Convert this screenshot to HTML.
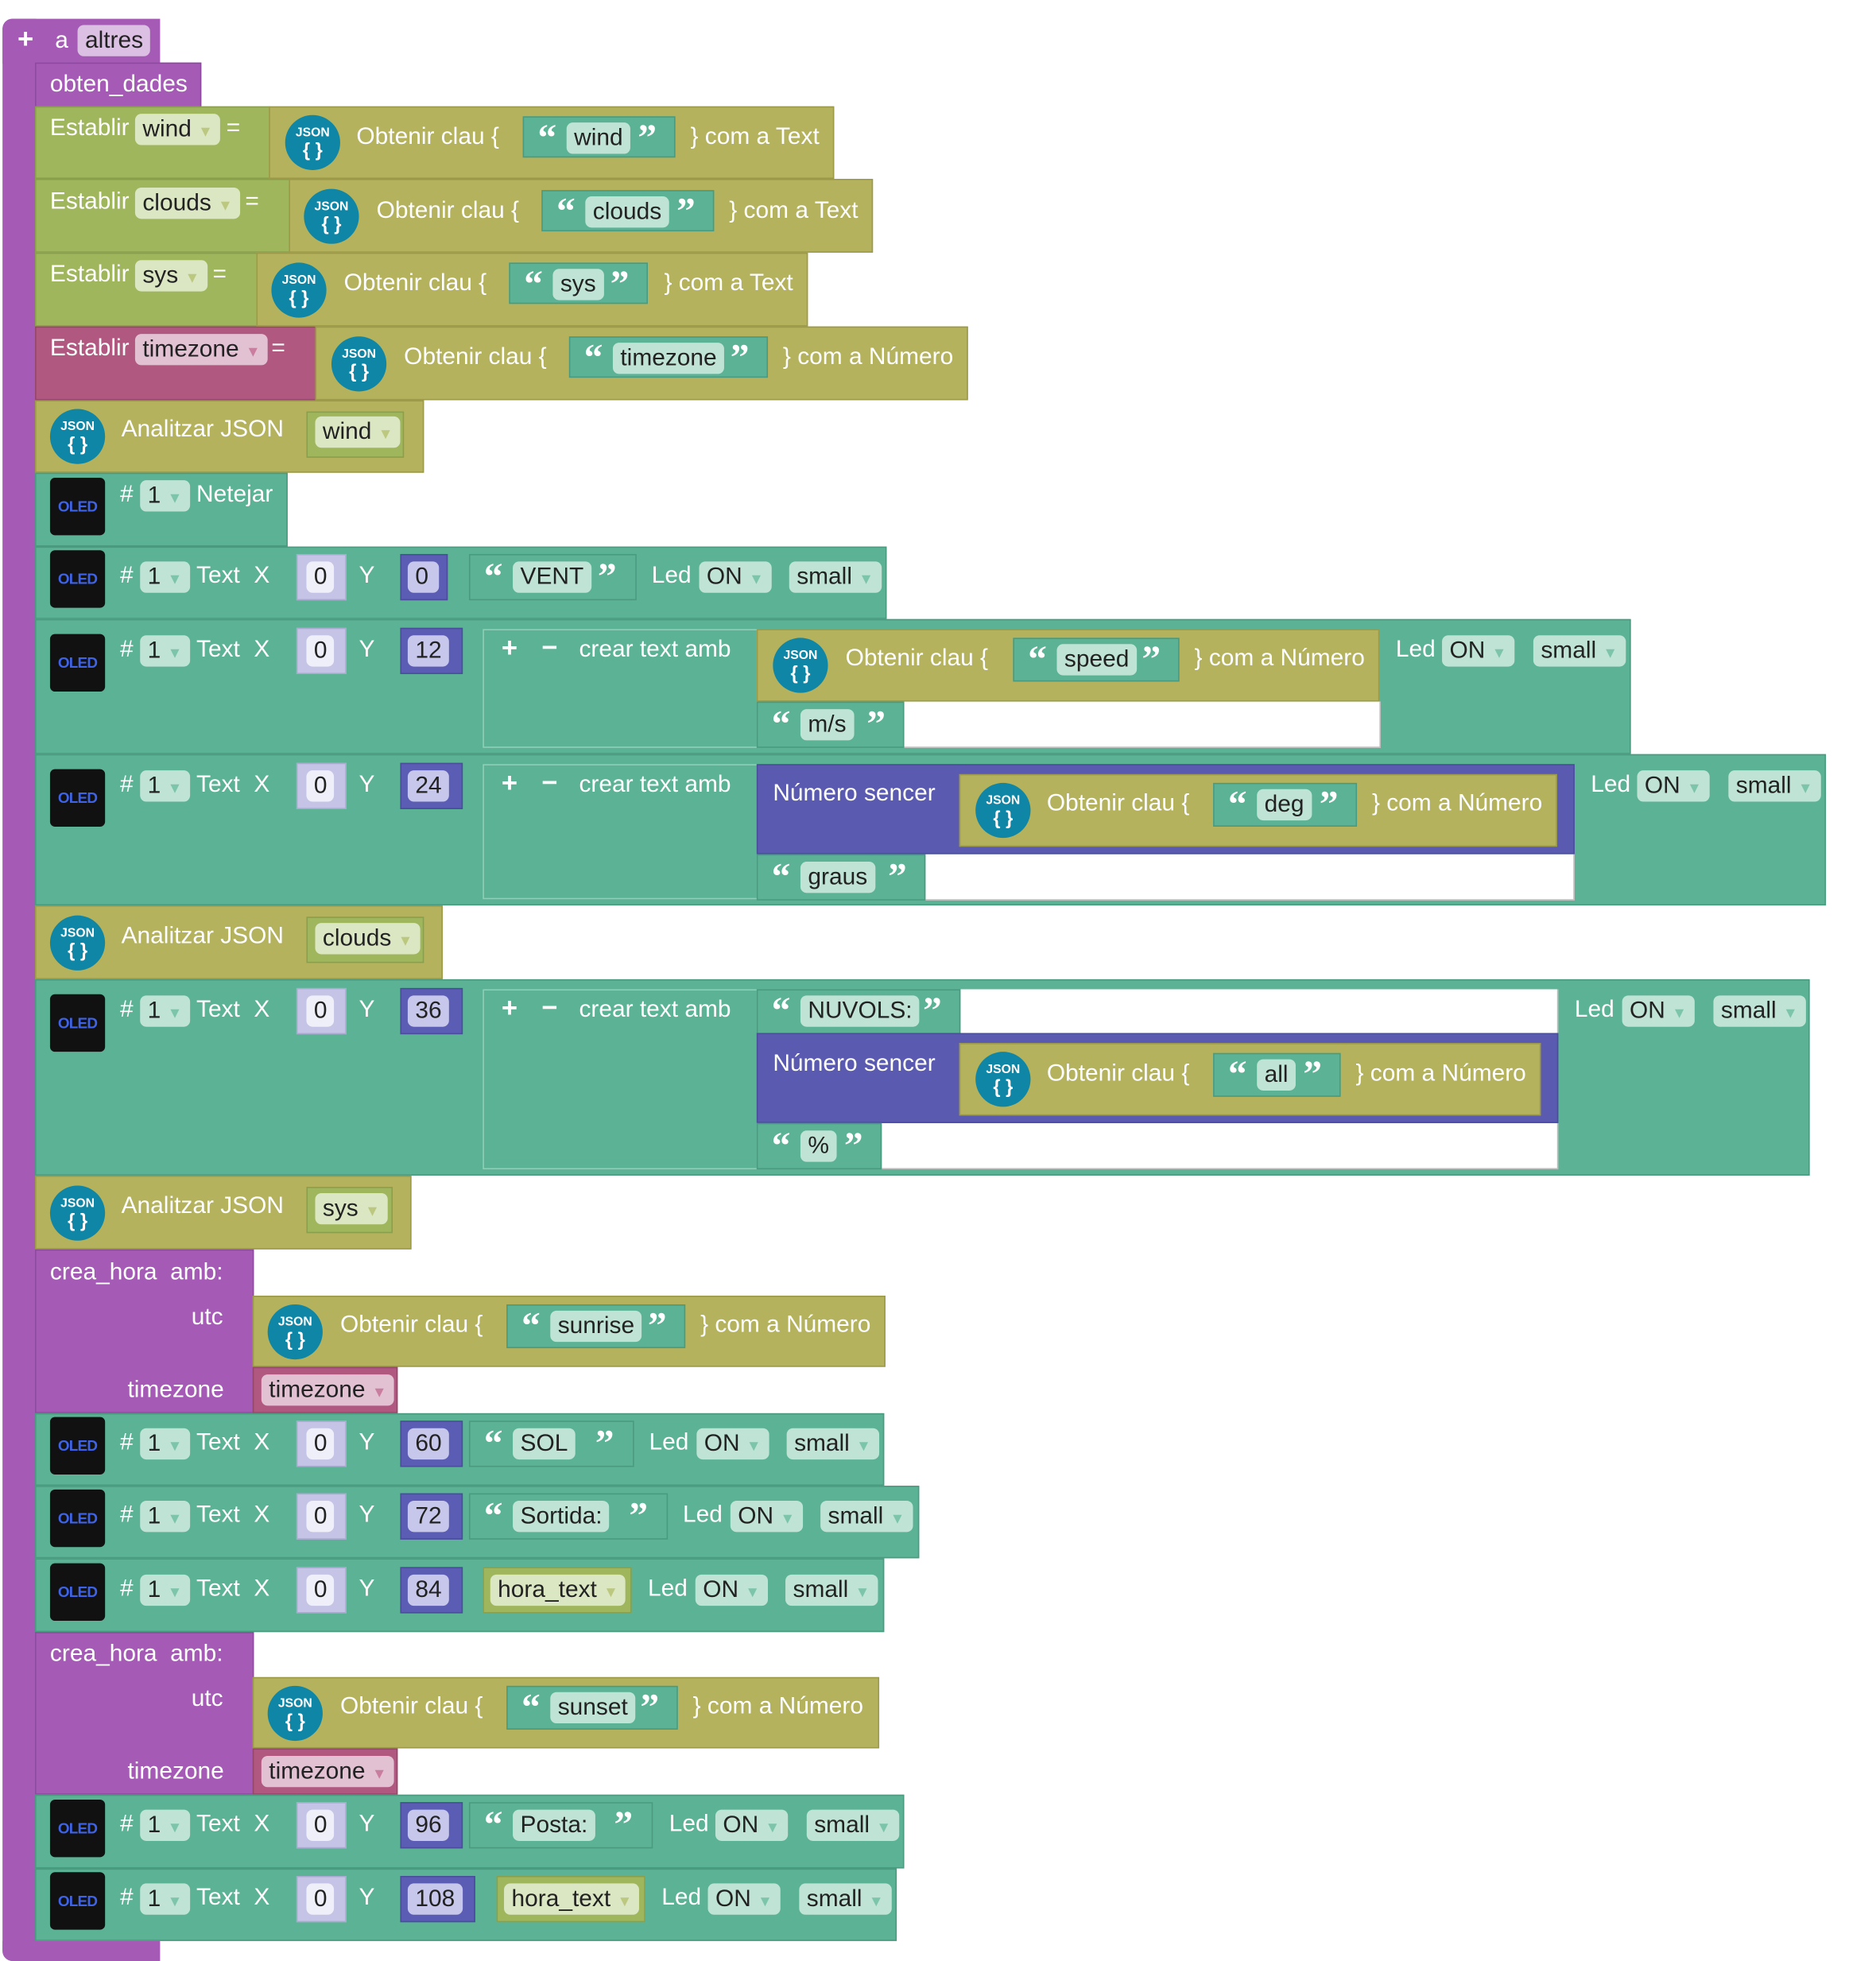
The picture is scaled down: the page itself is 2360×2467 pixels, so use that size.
<!DOCTYPE html>
<html><head><meta charset="utf-8">
<style>
html,body{margin:0;padding:0;background:#fff;width:2360px;height:2467px;overflow:hidden}
#w{position:absolute;left:0;top:0;width:1500px;height:1568px;transform:scale(1.57333);transform-origin:0 0;font-family:"Liberation Sans",sans-serif}
#w div{position:absolute;box-sizing:border-box}
.t{color:#fff;font-size:19px;line-height:22px;white-space:nowrap}
.f{height:25px;line-height:25px;font-size:19px;color:#222;border-radius:5px;padding:0 6px;white-space:nowrap}
.g{background:#a0b65c;border:1px solid #8a9f4c}
.o{background:#b4b25c;border:1px solid #9c9a48}
.p{background:#a55bb6}
.k{background:#b15880;border:1px solid #96466a}
.c{background:#5bb295;border:1px solid #4a9a80}
.lv{background:#c5c4e6;border:1px solid #aaa9d0}
.db{background:#5b5db5;border:1px solid #4a4c9c}
.fg{background:#dbe6c3}.fc{background:#bfe3d5}.fk{background:#e2c1d3}.fl{background:#efeff9}.fd{background:#c6c7ea}
.ar{font-size:12px;color:#fff}
.js{width:44px;height:44px;border-radius:50%;background:#0f86a6;color:#fff;text-align:center;font-size:10px;line-height:12px;padding-top:9px;font-weight:bold}
.js b{display:block;font-size:15px;line-height:15px}
.ol{width:44px;height:46px;background:#111;border-radius:4px;color:#3e63e6;font-size:12px;font-weight:bold;text-align:center;line-height:46px;letter-spacing:-0.5px}
.q{color:#fff;font-size:30px;font-weight:bold;line-height:30px;font-family:"Liberation Serif",serif}
</style></head><body><div id="w">

<div class="p" style="left:2px;top:15px;width:126px;height:36px;border-radius:8px 0 0 0"></div>
<div class="p" style="left:2px;top:15px;width:27px;height:1553px;border-radius:8px 0 0 8px"></div>
<div class="p" style="left:2px;top:1552px;width:126px;height:16px;border-radius:0 0 0 8px"></div>
<div class="t" style="left:14px;top:20px;font-weight:bold;font-size:22px">+</div>
<div class="t" style="left:44px;top:22px">a</div>
<div class="f" style="left:62px;top:20px;background:#dcc0e3">altres</div>

<div class="p" style="left:28px;top:50px;width:133px;height:36px;border:1px solid #8d4a9c"></div>
<div class="t" style="left:40px;top:57px">obten_dades</div>

<div class="g" style="left:28px;top:85px;width:188px;height:58px"></div>
<div class="t" style="left:40px;top:92px">Establir</div><div class="f fg" style="left:108px;top:91px">wind <span class="ar" style="color:#bcc77f">▼</span></div><div class="t" style="left:181px;top:92px">=</div>
<div class="g" style="left:28px;top:143px;width:204px;height:59px"></div>
<div class="t" style="left:40px;top:151px">Establir</div><div class="f fg" style="left:108px;top:150px">clouds <span class="ar" style="color:#bcc77f">▼</span></div><div class="t" style="left:196px;top:151px">=</div>
<div class="g" style="left:28px;top:202px;width:178px;height:59px"></div>
<div class="t" style="left:40px;top:209px">Establir</div><div class="f fg" style="left:108px;top:208px">sys <span class="ar" style="color:#bcc77f">▼</span></div><div class="t" style="left:170px;top:209px">=</div>
<div class="k" style="left:28px;top:261px;width:225px;height:59px"></div>
<div class="t" style="left:40px;top:268px">Establir</div><div class="f fk" style="left:108px;top:267px">timezone <span class="ar" style="color:#c97ea0">▼</span></div><div class="t" style="left:217px;top:268px">=</div>

<div class="o" style="left:215px;top:85px;width:452px;height:58px"></div>
<div class="js" style="left:228px;top:92px">JSON<b>{ }</b></div>
<div class="t" style="left:285px;top:99px">Obtenir clau {</div>
<div class="c" style="left:418px;top:93px;width:122px;height:33px"></div><div class="q" style="left:430px;top:96px">“</div><div class="f fc" style="left:453px;top:98px">wind</div><div class="q" style="left:510px;top:96px">”</div>
<div class="t" style="left:552px;top:99px">} com a Text</div>

<div class="o" style="left:231px;top:143px;width:467px;height:59px"></div>
<div class="js" style="left:243px;top:151px">JSON<b>{ }</b></div>
<div class="t" style="left:301px;top:158px">Obtenir clau {</div>
<div class="c" style="left:433px;top:152px;width:138px;height:33px"></div><div class="q" style="left:445px;top:155px">“</div><div class="f fc" style="left:468px;top:157px">clouds</div><div class="q" style="left:541px;top:155px">”</div>
<div class="t" style="left:583px;top:158px">} com a Text</div>

<div class="o" style="left:205px;top:202px;width:441px;height:59px"></div>
<div class="js" style="left:217px;top:210px">JSON<b>{ }</b></div>
<div class="t" style="left:275px;top:216px">Obtenir clau {</div>
<div class="c" style="left:407px;top:210px;width:111px;height:33px"></div><div class="q" style="left:419px;top:213px">“</div><div class="f fc" style="left:442px;top:215px">sys</div><div class="q" style="left:488px;top:213px">”</div>
<div class="t" style="left:531px;top:216px">} com a Text</div>

<div class="o" style="left:252px;top:261px;width:522px;height:59px"></div>
<div class="js" style="left:265px;top:269px">JSON<b>{ }</b></div>
<div class="t" style="left:323px;top:275px">Obtenir clau {</div>
<div class="c" style="left:455px;top:269px;width:159px;height:33px"></div><div class="q" style="left:467px;top:272px">“</div><div class="f fc" style="left:490px;top:274px">timezone</div><div class="q" style="left:584px;top:272px">”</div>
<div class="t" style="left:626px;top:275px">} com a Número</div>

<div class="o" style="left:28px;top:320px;width:311px;height:58px"></div>
<div class="js" style="left:40px;top:327px">JSON<b>{ }</b></div>
<div class="t" style="left:97px;top:333px">Analitzar JSON</div>
<div class="g" style="left:245px;top:329px;width:78px;height:37px"></div><div class="f fg" style="left:252px;top:333px">wind <span class="ar" style="color:#bcc77f">▼</span></div>

<div class="c" style="left:28px;top:378px;width:202px;height:59px"></div>
<div class="ol" style="left:40px;top:382px">OLED</div>
<div class="t" style="left:96px;top:385px">#</div><div class="f fc" style="left:112px;top:384px">1 <span class="ar" style="color:#7cc4aa">▼</span></div><div class="t" style="left:157px;top:385px">Netejar</div>

<!-- VENT row -->
<div class="c" style="left:28px;top:437px;width:681px;height:58px"></div>
<div class="ol" style="left:40px;top:440px">OLED</div>
<div class="t" style="left:96px;top:450px">#</div><div class="f fc" style="left:112px;top:449px">1 <span class="ar" style="color:#7cc4aa">▼</span></div><div class="t" style="left:157px;top:450px">Text</div><div class="t" style="left:203px;top:450px">X</div>
<div class="lv" style="left:237px;top:443px;width:40px;height:37px"></div><div class="f fl" style="left:245px;top:449px;width:22px">0</div>
<div class="t" style="left:287px;top:450px">Y</div>
<div class="db" style="left:320px;top:443px;width:38px;height:37px"></div><div class="f fd" style="left:326px;top:449px;width:25px">0</div>
<div class="c" style="left:375px;top:443px;width:134px;height:37px"></div><div class="q" style="left:387px;top:447px">“</div><div class="f fc" style="left:410px;top:449px">VENT</div><div class="q" style="left:478px;top:447px">”</div>
<div class="t" style="left:521px;top:450px">Led</div><div class="f fc" style="left:559px;top:449px">ON <span class="ar" style="color:#7cc4aa">▼</span></div><div class="f fc" style="left:631px;top:449px">small <span class="ar" style="color:#7cc4aa">▼</span></div>

<!-- speed row -->
<div class="c" style="left:28px;top:495px;width:1276px;height:108px"></div>
<div class="ol" style="left:40px;top:507px">OLED</div>
<div class="t" style="left:96px;top:509px">#</div><div class="f fc" style="left:112px;top:508px">1 <span class="ar" style="color:#7cc4aa">▼</span></div><div class="t" style="left:157px;top:509px">Text</div><div class="t" style="left:203px;top:509px">X</div>
<div class="lv" style="left:237px;top:502px;width:40px;height:37px"></div><div class="f fl" style="left:245px;top:508px;width:22px">0</div>
<div class="t" style="left:287px;top:509px">Y</div>
<div class="db" style="left:320px;top:502px;width:50px;height:37px"></div><div class="f fd" style="left:326px;top:508px">12</div>
<div class="c" style="left:386px;top:503px;width:220px;height:95px;border-color:#8fd0b8"></div>
<div class="t" style="left:401px;top:507px;font-weight:bold;font-size:22px">+</div><div class="t" style="left:433px;top:507px;font-weight:bold;font-size:22px">−</div><div class="t" style="left:463px;top:509px">crear text amb</div>
<div class="o" style="left:605px;top:503px;width:498px;height:58px"></div>
<div class="js" style="left:618px;top:510px">JSON<b>{ }</b></div>
<div class="t" style="left:676px;top:516px">Obtenir clau {</div>
<div class="c" style="left:810px;top:510px;width:133px;height:35px"></div><div class="q" style="left:822px;top:513px">“</div><div class="f fc" style="left:845px;top:515px">speed</div><div class="q" style="left:913px;top:513px">”</div>
<div class="t" style="left:955px;top:516px">} com a Número</div>
<div style="left:723px;top:561px;width:381px;height:37px;background:#fff;border-right:1px solid #bbb;border-bottom:1px solid #bbb"></div>
<div class="c" style="left:605px;top:561px;width:118px;height:37px"></div><div class="q" style="left:617px;top:565px">“</div><div class="f fc" style="left:640px;top:567px">m/s</div><div class="q" style="left:693px;top:565px">”</div>
<div class="t" style="left:1116px;top:509px">Led</div><div class="f fc" style="left:1153px;top:508px">ON <span class="ar" style="color:#7cc4aa">▼</span></div><div class="f fc" style="left:1226px;top:508px">small <span class="ar" style="color:#7cc4aa">▼</span></div>

<!-- deg row -->
<div class="c" style="left:28px;top:603px;width:1432px;height:121px"></div>
<div class="ol" style="left:40px;top:615px">OLED</div>
<div class="t" style="left:96px;top:617px">#</div><div class="f fc" style="left:112px;top:616px">1 <span class="ar" style="color:#7cc4aa">▼</span></div><div class="t" style="left:157px;top:617px">Text</div><div class="t" style="left:203px;top:617px">X</div>
<div class="lv" style="left:237px;top:610px;width:40px;height:37px"></div><div class="f fl" style="left:245px;top:616px;width:22px">0</div>
<div class="t" style="left:287px;top:617px">Y</div>
<div class="db" style="left:320px;top:610px;width:50px;height:37px"></div><div class="f fd" style="left:326px;top:616px">24</div>
<div class="c" style="left:386px;top:611px;width:220px;height:108px;border-color:#8fd0b8"></div>
<div class="t" style="left:401px;top:615px;font-weight:bold;font-size:22px">+</div><div class="t" style="left:433px;top:615px;font-weight:bold;font-size:22px">−</div><div class="t" style="left:463px;top:617px">crear text amb</div>
<div style="left:740px;top:683px;width:519px;height:37px;background:#fff;border-right:1px solid #bbb;border-bottom:1px solid #bbb"></div>
<div class="db" style="left:605px;top:611px;width:654px;height:72px;background:#5a5ab0"></div>
<div class="t" style="left:618px;top:624px">Número sencer</div>
<div class="o" style="left:767px;top:619px;width:478px;height:58px"></div>
<div class="js" style="left:780px;top:626px">JSON<b>{ }</b></div>
<div class="t" style="left:837px;top:632px">Obtenir clau {</div>
<div class="c" style="left:970px;top:626px;width:115px;height:35px"></div><div class="q" style="left:982px;top:629px">“</div><div class="f fc" style="left:1005px;top:631px">deg</div><div class="q" style="left:1055px;top:629px">”</div>
<div class="t" style="left:1097px;top:632px">} com a Número</div>
<div class="c" style="left:605px;top:683px;width:135px;height:37px"></div><div class="q" style="left:617px;top:687px">“</div><div class="f fc" style="left:640px;top:689px">graus</div><div class="q" style="left:710px;top:687px">”</div>
<div class="t" style="left:1272px;top:617px">Led</div><div class="f fc" style="left:1309px;top:616px">ON <span class="ar" style="color:#7cc4aa">▼</span></div><div class="f fc" style="left:1382px;top:616px">small <span class="ar" style="color:#7cc4aa">▼</span></div>

<div class="o" style="left:28px;top:724px;width:326px;height:59px"></div>
<div class="js" style="left:40px;top:732px">JSON<b>{ }</b></div>
<div class="t" style="left:97px;top:738px">Analitzar JSON</div>
<div class="g" style="left:245px;top:733px;width:94px;height:37px"></div><div class="f fg" style="left:252px;top:738px">clouds <span class="ar" style="color:#bcc77f">▼</span></div>

<!-- NUVOLS row -->
<div class="c" style="left:28px;top:783px;width:1419px;height:157px"></div>
<div class="ol" style="left:40px;top:795px">OLED</div>
<div class="t" style="left:96px;top:797px">#</div><div class="f fc" style="left:112px;top:796px">1 <span class="ar" style="color:#7cc4aa">▼</span></div><div class="t" style="left:157px;top:797px">Text</div><div class="t" style="left:203px;top:797px">X</div>
<div class="lv" style="left:237px;top:790px;width:40px;height:37px"></div><div class="f fl" style="left:245px;top:796px;width:22px">0</div>
<div class="t" style="left:287px;top:797px">Y</div>
<div class="db" style="left:320px;top:790px;width:50px;height:37px"></div><div class="f fd" style="left:326px;top:796px">36</div>
<div class="c" style="left:386px;top:791px;width:220px;height:144px;border-color:#8fd0b8"></div>
<div class="t" style="left:401px;top:795px;font-weight:bold;font-size:22px">+</div><div class="t" style="left:433px;top:795px;font-weight:bold;font-size:22px">−</div><div class="t" style="left:463px;top:797px">crear text amb</div>
<div style="left:768px;top:791px;width:478px;height:36px;background:#fff;border-right:1px solid #bbb"></div>
<div style="left:705px;top:898px;width:541px;height:37px;background:#fff;border-right:1px solid #bbb;border-bottom:1px solid #bbb"></div>
<div class="c" style="left:605px;top:791px;width:163px;height:36px"></div><div class="q" style="left:617px;top:794px">“</div><div class="f fc" style="left:640px;top:796px">NUVOLS:</div><div class="q" style="left:738px;top:794px">”</div>
<div class="db" style="left:605px;top:826px;width:641px;height:72px;background:#5a5ab0"></div>
<div class="t" style="left:618px;top:840px">Número sencer</div>
<div class="o" style="left:767px;top:834px;width:465px;height:58px"></div>
<div class="js" style="left:780px;top:841px">JSON<b>{ }</b></div>
<div class="t" style="left:837px;top:848px">Obtenir clau {</div>
<div class="c" style="left:970px;top:842px;width:102px;height:35px"></div><div class="q" style="left:982px;top:845px">“</div><div class="f fc" style="left:1005px;top:847px">all</div><div class="q" style="left:1042px;top:845px">”</div>
<div class="t" style="left:1084px;top:848px">} com a Número</div>
<div class="c" style="left:605px;top:898px;width:100px;height:37px"></div><div class="q" style="left:617px;top:902px">“</div><div class="f fc" style="left:640px;top:904px">%</div><div class="q" style="left:675px;top:902px">”</div>
<div class="t" style="left:1259px;top:797px">Led</div><div class="f fc" style="left:1297px;top:796px">ON <span class="ar" style="color:#7cc4aa">▼</span></div><div class="f fc" style="left:1370px;top:796px">small <span class="ar" style="color:#7cc4aa">▼</span></div>

<div class="o" style="left:28px;top:940px;width:301px;height:59px"></div>
<div class="js" style="left:40px;top:948px">JSON<b>{ }</b></div>
<div class="t" style="left:97px;top:954px">Analitzar JSON</div>
<div class="g" style="left:245px;top:949px;width:69px;height:37px"></div><div class="f fg" style="left:252px;top:954px">sys <span class="ar" style="color:#bcc77f">▼</span></div>

<div class="p" style="left:28px;top:999px;width:175px;height:131px;border:1px solid #8d4a9c"></div>
<div class="t" style="left:40px;top:1007px">crea_hora&nbsp; amb:</div>
<div class="t" style="left:153px;top:1043px">utc</div>
<div class="t" style="left:102px;top:1101px">timezone</div>
<div class="o" style="left:202px;top:1036px;width:506px;height:57px"></div>
<div class="js" style="left:214px;top:1043px">JSON<b>{ }</b></div>
<div class="t" style="left:272px;top:1049px">Obtenir clau {</div>
<div class="c" style="left:405px;top:1043px;width:143px;height:35px"></div><div class="q" style="left:417px;top:1046px">“</div><div class="f fc" style="left:440px;top:1048px">sunrise</div><div class="q" style="left:518px;top:1046px">”</div>
<div class="t" style="left:560px;top:1049px">} com a Número</div>
<div class="k" style="left:202px;top:1093px;width:116px;height:37px"></div><div class="f fk" style="left:209px;top:1099px">timezone <span class="ar" style="color:#c97ea0">▼</span></div>

<div class="c" style="left:28px;top:1130px;width:679px;height:58px"></div>
<div class="ol" style="left:40px;top:1133px">OLED</div>
<div class="t" style="left:96px;top:1143px">#</div><div class="f fc" style="left:112px;top:1142px">1 <span class="ar" style="color:#7cc4aa">▼</span></div><div class="t" style="left:157px;top:1143px">Text</div><div class="t" style="left:203px;top:1143px">X</div>
<div class="lv" style="left:237px;top:1136px;width:40px;height:37px"></div><div class="f fl" style="left:245px;top:1142px;width:22px">0</div>
<div class="t" style="left:287px;top:1143px">Y</div>
<div class="db" style="left:320px;top:1136px;width:50px;height:37px"></div><div class="f fd" style="left:326px;top:1142px">60</div>
<div class="c" style="left:375px;top:1136px;width:132px;height:37px"></div><div class="q" style="left:387px;top:1140px">“</div><div class="f fc" style="left:410px;top:1142px">SOL</div><div class="q" style="left:476px;top:1140px">”</div>
<div class="t" style="left:519px;top:1143px">Led</div><div class="f fc" style="left:557px;top:1142px">ON <span class="ar" style="color:#7cc4aa">▼</span></div><div class="f fc" style="left:629px;top:1142px">small <span class="ar" style="color:#7cc4aa">▼</span></div>

<div class="c" style="left:28px;top:1188px;width:707px;height:58px"></div>
<div class="ol" style="left:40px;top:1191px">OLED</div>
<div class="t" style="left:96px;top:1201px">#</div><div class="f fc" style="left:112px;top:1200px">1 <span class="ar" style="color:#7cc4aa">▼</span></div><div class="t" style="left:157px;top:1201px">Text</div><div class="t" style="left:203px;top:1201px">X</div>
<div class="lv" style="left:237px;top:1194px;width:40px;height:37px"></div><div class="f fl" style="left:245px;top:1200px;width:22px">0</div>
<div class="t" style="left:287px;top:1201px">Y</div>
<div class="db" style="left:320px;top:1194px;width:50px;height:37px"></div><div class="f fd" style="left:326px;top:1200px">72</div>
<div class="c" style="left:375px;top:1194px;width:159px;height:37px"></div><div class="q" style="left:387px;top:1198px">“</div><div class="f fc" style="left:410px;top:1200px">Sortida:</div><div class="q" style="left:503px;top:1198px">”</div>
<div class="t" style="left:546px;top:1201px">Led</div><div class="f fc" style="left:584px;top:1200px">ON <span class="ar" style="color:#7cc4aa">▼</span></div><div class="f fc" style="left:656px;top:1200px">small <span class="ar" style="color:#7cc4aa">▼</span></div>

<div class="c" style="left:28px;top:1246px;width:679px;height:59px"></div>
<div class="ol" style="left:40px;top:1250px">OLED</div>
<div class="t" style="left:96px;top:1260px">#</div><div class="f fc" style="left:112px;top:1259px">1 <span class="ar" style="color:#7cc4aa">▼</span></div><div class="t" style="left:157px;top:1260px">Text</div><div class="t" style="left:203px;top:1260px">X</div>
<div class="lv" style="left:237px;top:1253px;width:40px;height:37px"></div><div class="f fl" style="left:245px;top:1259px;width:22px">0</div>
<div class="t" style="left:287px;top:1260px">Y</div>
<div class="db" style="left:320px;top:1253px;width:50px;height:37px"></div><div class="f fd" style="left:326px;top:1259px">84</div>
<div class="g" style="left:386px;top:1253px;width:119px;height:37px"></div><div class="f fg" style="left:392px;top:1259px">hora_text <span class="ar" style="color:#bcc77f">▼</span></div>
<div class="t" style="left:518px;top:1260px">Led</div><div class="f fc" style="left:556px;top:1259px">ON <span class="ar" style="color:#7cc4aa">▼</span></div><div class="f fc" style="left:628px;top:1259px">small <span class="ar" style="color:#7cc4aa">▼</span></div>

<div class="p" style="left:28px;top:1305px;width:175px;height:130px;border:1px solid #8d4a9c"></div>
<div class="t" style="left:40px;top:1312px">crea_hora&nbsp; amb:</div>
<div class="t" style="left:153px;top:1348px">utc</div>
<div class="t" style="left:102px;top:1406px">timezone</div>
<div class="o" style="left:202px;top:1341px;width:501px;height:57px"></div>
<div class="js" style="left:214px;top:1348px">JSON<b>{ }</b></div>
<div class="t" style="left:272px;top:1354px">Obtenir clau {</div>
<div class="c" style="left:405px;top:1348px;width:137px;height:35px"></div><div class="q" style="left:417px;top:1351px">“</div><div class="f fc" style="left:440px;top:1353px">sunset</div><div class="q" style="left:512px;top:1351px">”</div>
<div class="t" style="left:554px;top:1354px">} com a Número</div>
<div class="k" style="left:202px;top:1398px;width:116px;height:37px"></div><div class="f fk" style="left:209px;top:1404px">timezone <span class="ar" style="color:#c97ea0">▼</span></div>

<div class="c" style="left:28px;top:1435px;width:695px;height:59px"></div>
<div class="ol" style="left:40px;top:1439px">OLED</div>
<div class="t" style="left:96px;top:1448px">#</div><div class="f fc" style="left:112px;top:1447px">1 <span class="ar" style="color:#7cc4aa">▼</span></div><div class="t" style="left:157px;top:1448px">Text</div><div class="t" style="left:203px;top:1448px">X</div>
<div class="lv" style="left:237px;top:1441px;width:40px;height:37px"></div><div class="f fl" style="left:245px;top:1447px;width:22px">0</div>
<div class="t" style="left:287px;top:1448px">Y</div>
<div class="db" style="left:320px;top:1441px;width:50px;height:37px"></div><div class="f fd" style="left:326px;top:1447px">96</div>
<div class="c" style="left:375px;top:1441px;width:147px;height:37px"></div><div class="q" style="left:387px;top:1445px">“</div><div class="f fc" style="left:410px;top:1447px">Posta:</div><div class="q" style="left:491px;top:1445px">”</div>
<div class="t" style="left:535px;top:1448px">Led</div><div class="f fc" style="left:572px;top:1447px">ON <span class="ar" style="color:#7cc4aa">▼</span></div><div class="f fc" style="left:645px;top:1447px">small <span class="ar" style="color:#7cc4aa">▼</span></div>

<div class="c" style="left:28px;top:1494px;width:689px;height:58px"></div>
<div class="ol" style="left:40px;top:1497px">OLED</div>
<div class="t" style="left:96px;top:1507px">#</div><div class="f fc" style="left:112px;top:1506px">1 <span class="ar" style="color:#7cc4aa">▼</span></div><div class="t" style="left:157px;top:1507px">Text</div><div class="t" style="left:203px;top:1507px">X</div>
<div class="lv" style="left:237px;top:1500px;width:40px;height:37px"></div><div class="f fl" style="left:245px;top:1506px;width:22px">0</div>
<div class="t" style="left:287px;top:1507px">Y</div>
<div class="db" style="left:320px;top:1500px;width:60px;height:37px"></div><div class="f fd" style="left:326px;top:1506px">108</div>
<div class="g" style="left:397px;top:1500px;width:119px;height:37px"></div><div class="f fg" style="left:403px;top:1506px">hora_text <span class="ar" style="color:#bcc77f">▼</span></div>
<div class="t" style="left:529px;top:1507px">Led</div><div class="f fc" style="left:566px;top:1506px">ON <span class="ar" style="color:#7cc4aa">▼</span></div><div class="f fc" style="left:639px;top:1506px">small <span class="ar" style="color:#7cc4aa">▼</span></div>

</div></body></html>
